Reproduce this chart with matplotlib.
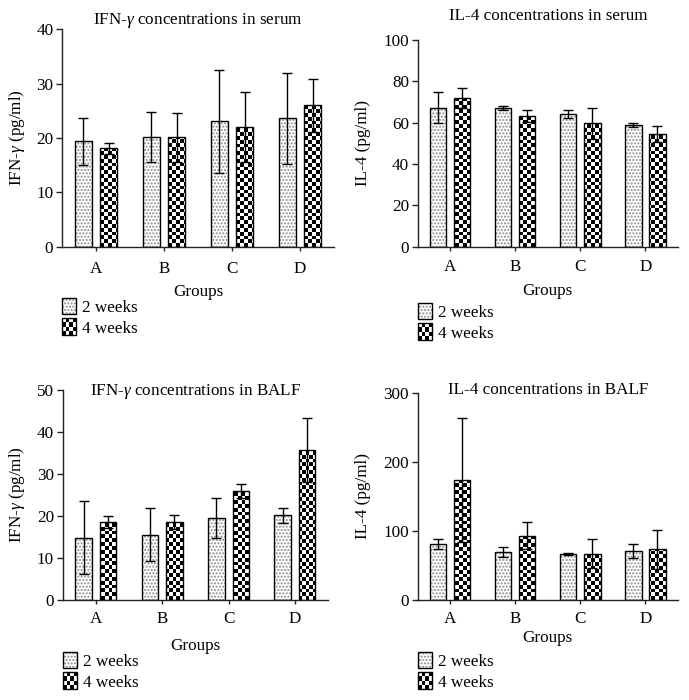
import matplotlib

matplotlib.use("Agg")
import matplotlib.pyplot as plt  # noqa: E402
import numpy as np  # noqa: E402
from matplotlib.patches import Rectangle  # noqa: E402

FIG_W, FIG_H = 689, 700
DPI = 100

plt.rcParams["font.family"] = ["Liberation Serif", "DejaVu Serif"]
plt.rcParams["font.size"] = 12.3
plt.rcParams["mathtext.fontset"] = "custom"
plt.rcParams["mathtext.rm"] = "Liberation Serif"
plt.rcParams["mathtext.it"] = "Liberation Serif:italic"
plt.rcParams["hatch.linewidth"] = 1.0

GROUPS = ["A", "B", "C", "D"]
SERIES = ["2 weeks", "4 weeks"]

# values (mean, error)
ifn_serum_2w = [19.4, 20.2, 23.1, 23.6]
ifn_serum_2w_err = [4.3, 4.6, 9.5, 8.4]
ifn_serum_4w = [18.1, 20.1, 22.0, 26.0]
ifn_serum_4w_err = [1.0, 4.5, 6.5, 4.9]

il4_serum_2w = [67.3, 67.1, 64.2, 58.7]
il4_serum_2w_err = [7.4, 1.0, 1.8, 1.0]
il4_serum_4w = [71.8, 63.2, 59.7, 54.7]
il4_serum_4w_err = [4.8, 2.9, 7.4, 3.9]

ifn_balf_2w = [14.8, 15.5, 19.5, 20.2]
ifn_balf_2w_err = [8.7, 6.3, 4.7, 1.8]
ifn_balf_4w = [18.6, 18.6, 26.0, 35.7]
ifn_balf_4w_err = [1.4, 1.6, 1.7, 7.6]

il4_balf_2w = [81.0, 69.0, 66.6, 70.4]
il4_balf_2w_err = [7.8, 7.2, 1.4, 10.2]
il4_balf_4w = [173.2, 93.1, 67.1, 73.3]
il4_balf_4w_err = [89.7, 19.3, 21.2, 28.0]

IFN_LABEL = r"IFN-$\gamma$ (pg/ml)"
IL4_LABEL = "IL-4 (pg/ml)"

DOT_COLOR = "#8c8c8c"
CELL_PX = 3.8
BAR_W = 0.25
OFFSET = 0.185


def checker(ny, nx):
    return np.indices((ny, nx)).sum(axis=0) % 2


def checker_fill(ax, patch, w_px, h_px, extent, transform):
    """Black/white checkerboard image clipped to a rectangle."""
    ny = max(1, int(round(h_px / CELL_PX)))
    nx = max(1, int(round(w_px / CELL_PX)))
    im = ax.imshow(
        checker(ny, nx),
        cmap="gray",
        vmin=0,
        vmax=1,
        extent=extent,
        transform=transform,
        aspect="auto",
        interpolation="nearest",
        origin="lower",
        zorder=1.2,
    )
    im.set_clip_path(patch)
    return im


def panel(fig, rect, title, title_y, ylabel, ylim, yticks, vals2, err2, vals4, err4,
          xpad, xlabelpad, ylabelpad, leg_top):
    ax = fig.add_axes(rect)
    ax.set_xlim(-0.5, 3.5)
    ax.set_ylim(*ylim)
    ax_w = rect[2] * FIG_W
    ax_h = rect[3] * FIG_H

    x = np.arange(len(GROUPS))
    # 2 weeks: white with grey dots
    ax.bar(x - OFFSET, vals2, BAR_W, color="white", edgecolor=DOT_COLOR,
           hatch=".....", linewidth=0, zorder=1)
    # 4 weeks: checkerboard
    bars4 = ax.bar(x + OFFSET, vals4, BAR_W, color="white", linewidth=0, zorder=1)
    for b in bars4:
        checker_fill(ax, b, ax_w, ax_h, (0, 1, 0, 1), ax.transAxes)
    # outlines
    ax.bar(x - OFFSET, vals2, BAR_W, fill=False, edgecolor="black", linewidth=1.0, zorder=1.5)
    ax.bar(x + OFFSET, vals4, BAR_W, fill=False, edgecolor="black", linewidth=1.0, zorder=1.5)
    ax.errorbar(x - OFFSET, vals2, yerr=err2, fmt="none", ecolor="black",
                elinewidth=1.0, capsize=3.3, capthick=1.0, zorder=2)
    ax.errorbar(x + OFFSET, vals4, yerr=err4, fmt="none", ecolor="black",
                elinewidth=1.0, capsize=3.3, capthick=1.0, zorder=2)

    ax.set_xlim(-0.5, 3.5)
    ax.set_ylim(*ylim)
    ax.set_yticks(yticks)
    ax.set_xticks(x)
    ax.set_xticklabels(GROUPS)
    for side in ("top", "right"):
        ax.spines[side].set_visible(False)
    for side in ("left", "bottom"):
        ax.spines[side].set_linewidth(1.0)
        ax.spines[side].set_color("#222222")
    ax.tick_params(axis="y", length=4, width=1.0, pad=2.3, color="#222222")
    ax.tick_params(axis="x", length=3, width=1.0, pad=xpad, color="#222222")
    ax.set_xlabel("Groups", labelpad=xlabelpad)
    ax.set_ylabel(ylabel, labelpad=ylabelpad)
    ax.text(0.5, title_y, title, transform=ax.transAxes, ha="center", va="baseline")

    # legend drawn by hand: squares hanging below the x axis
    sq_w, sq_h, pitch = 14.4, 16.5, 20.5
    for i, name in enumerate(SERIES):
        top = -(leg_top + i * pitch) / ax_h
        y0 = top - sq_h / ax_h
        x0 = 0.0
        w = sq_w / ax_w
        h = sq_h / ax_h
        if i == 0:
            sq = Rectangle((x0, y0), w, h, transform=ax.transAxes, facecolor="white",
                           edgecolor=DOT_COLOR, hatch=".....", linewidth=0,
                           clip_on=False, zorder=3)
            ax.add_patch(sq)
        else:
            sq = Rectangle((x0, y0), w, h, transform=ax.transAxes, facecolor="white",
                           linewidth=0, clip_on=False, zorder=3)
            ax.add_patch(sq)
            im = checker_fill(ax, sq, sq_w, sq_h, (x0, x0 + w, y0, y0 + h), ax.transAxes)
            im.set_zorder(3.1)
        ax.add_patch(Rectangle((x0, y0), w, h, transform=ax.transAxes, fill=False,
                               edgecolor="black", linewidth=1.0, clip_on=False, zorder=3.2))
        ax.text(x0 + (sq_w + 5.5) / ax_w, y0 + 2.0 / ax_h, name, transform=ax.transAxes,
                ha="left", va="baseline")
    ax.set_xlim(-0.5, 3.5)
    ax.set_ylim(*ylim)
    return ax


fig = plt.figure(figsize=(FIG_W / DPI, FIG_H / DPI), dpi=DPI)

panel(fig, [0.0900, 0.6476, 0.3948, 0.3105],
      r"IFN-$\gamma$ concentrations in serum", 1.0244, IFN_LABEL,
      (0, 40), [0, 10, 20, 30, 40],
      ifn_serum_2w, ifn_serum_2w_err, ifn_serum_4w, ifn_serum_4w_err,
      xpad=7.0, xlabelpad=5.7, ylabelpad=6.5, leg_top=51)
panel(fig, [0.6062, 0.6476, 0.3778, 0.2953],
      "IL-4 concentrations in serum", 1.0968, IL4_LABEL,
      (0, 100), [0, 20, 40, 60, 80, 100],
      il4_serum_2w, il4_serum_2w_err, il4_serum_4w, il4_serum_4w_err,
      xpad=6.0, xlabelpad=5.9, ylabelpad=8.5, leg_top=56)
panel(fig, [0.0910, 0.1429, 0.3851, 0.3000],
      r"IFN-$\gamma$ concentrations in BALF", 0.976, IFN_LABEL,
      (0, 50), [0, 10, 20, 30, 40, 50],
      ifn_balf_2w, ifn_balf_2w_err, ifn_balf_4w, ifn_balf_4w_err,
      xpad=5.0, xlabelpad=8.0, ylabelpad=7.0, leg_top=51.7)
panel(fig, [0.6062, 0.1429, 0.3778, 0.2961],
      "IL-4 concentrations in BALF", 0.992, IL4_LABEL,
      (0, 300), [0, 100, 200, 300],
      il4_balf_2w, il4_balf_2w_err, il4_balf_4w, il4_balf_4w_err,
      xpad=5.0, xlabelpad=2.3, ylabelpad=8.5, leg_top=51.7)

fig.savefig("out.png", dpi=DPI)
